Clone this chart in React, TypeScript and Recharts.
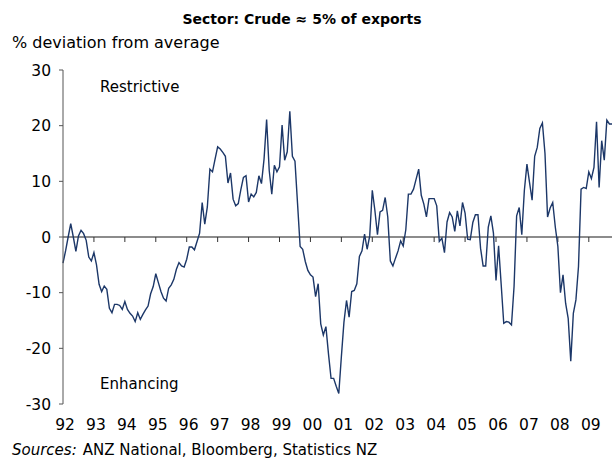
import { LineChart, Line, XAxis, YAxis, ReferenceLine } from 'recharts'

// year labels on the x axis (one per calendar year, Jan 1992 .. Oct 2009)
const yearLabels = ['92', '93', '94', '95', '96', '97', '98', '99', '00', '01', '02', '03', '04', '05', '06', '07', '08', '09']
const yTicks = [-30, -20, -10, 0, 10, 20, 30]

// monthly % deviation from average
const dev1992 = [-4.7, -2.5, 0.0, 2.4, 0.0, -2.6, 0.2, 1.2, 0.6, -0.6, -3.6, -4.3]
const dev1993 = [-2.8, -5.0, -8.5, -9.8, -8.8, -9.4, -12.8, -13.6, -12.1, -12.1, -12.3, -13.0]
const dev1994 = [-11.6, -13.0, -13.7, -14.2, -15.2, -13.6, -14.8, -13.9, -13.1, -12.4, -10.2, -8.9]
const dev1995 = [-6.6, -8.2, -9.8, -11.0, -11.5, -9.2, -8.6, -7.6, -5.8, -4.6, -5.2, -5.4]
const dev1996 = [-4.0, -1.8, -1.8, -2.3, -0.8, 0.7, 6.2, 2.3, 5.4, 12.2, 11.7, 14.0]
const dev1997 = [16.2, 15.8, 15.2, 14.5, 9.7, 11.5, 6.8, 5.6, 6.0, 8.5, 10.7, 11.0]
const dev1998 = [6.3, 7.7, 7.2, 8.0, 11.0, 9.6, 14.0, 21.1, 12.0, 7.7, 12.9, 11.7]
const dev1999 = [12.6, 20.1, 13.8, 15.3, 22.6, 14.5, 13.6, 6.0, -1.7, -2.2, -4.4, -6.0]
const dev2000 = [-6.8, -7.2, -10.7, -8.4, -15.6, -17.6, -16.1, -21.0, -25.4, -25.4, -26.8, -28.1]
const dev2001 = [-21.5, -15.3, -11.4, -14.4, -9.8, -9.6, -8.4, -3.5, -2.5, 0.5, -2.2, 0.2]
const dev2002 = [8.4, 4.8, 0.4, 4.5, 4.8, 7.1, 3.6, -4.3, -5.2, -3.8, -2.5, -0.7]
const dev2003 = [-1.6, 1.3, 7.7, 7.7, 8.6, 10.4, 12.2, 7.5, 5.9, 3.6, 6.9, 6.9]
const dev2004 = [6.9, 5.6, -0.8, -0.2, -2.8, 2.7, 4.4, 3.6, 1.0, 4.7, 2.0, 6.2]
const dev2005 = [4.3, -0.4, -0.5, 2.6, 4.0, 4.0, -2.0, -5.2, -5.2, 1.8, 3.8, 0.7]
const dev2006 = [-7.8, -1.6, -8.5, -15.5, -15.2, -15.3, -15.8, -8.9, 3.8, 5.3, 0.4, 8.4]
const dev2007 = [13.1, 9.8, 6.6, 14.5, 16.1, 19.5, 20.5, 15.0, 3.6, 5.2, 6.2, 1.8]
const dev2008 = [-1.7, -10.0, -6.8, -11.9, -14.6, -22.3, -13.7, -11.3, -5.3, 8.6, 8.9, 8.7]
const dev2009 = [11.7, 10.5, 12.5, 20.7, 8.9, 17.3, 13.8, 21.0, 20.3, 20.3]

const series = [
  ...dev1992, ...dev1993, ...dev1994, ...dev1995, ...dev1996, ...dev1997,
  ...dev1998, ...dev1999, ...dev2000, ...dev2001, ...dev2002, ...dev2003,
  ...dev2004, ...dev2005, ...dev2006, ...dev2007, ...dev2008, ...dev2009,
]
const data = series.map((v, m) => ({ m, v }))
const yearStarts = yearLabels.map((_, k) => k * 12)
const lastMonth = series.length - 1

const font = '"DejaVu Sans", Verdana, sans-serif'

export default function App() {
  return (
    <div style={{ position: 'absolute', left: 0, top: 0, width: 615, height: 459, background: '#fff', fontFamily: font }}>
      <LineChart width={615} height={459} data={data} margin={{ top: 70, right: 3, bottom: 25, left: 13 }}>
        <XAxis
          dataKey="m"
          type="number"
          domain={[0, lastMonth]}
          ticks={yearStarts}
          interval={0}
          tickFormatter={(m: number) => yearLabels[Math.round(m / 12)]}
          axisLine={false}
          tickLine={false}
          tick={{ fill: '#000', fontSize: 15.5, fontFamily: font, dx: 2 }}
          height={30}
          tickMargin={9}
        />
        <YAxis
          domain={[-30, 30]}
          ticks={yTicks}
          interval={0}
          width={50}
          tickSize={4}
          tickMargin={8}
          axisLine={{ stroke: '#555' }}
          tickLine={{ stroke: '#555' }}
          tick={{ fill: '#000', fontSize: 15.5, fontFamily: font }}
        />
        <ReferenceLine y={0} stroke="#666" strokeWidth={1.5} />
        {yearStarts.slice(1).map((m) => (
          <ReferenceLine key={m} segment={[{ x: m, y: 0 }, { x: m, y: -0.9 }]} stroke="#333" />
        ))}
        <Line type="linear" dataKey="v" stroke="#1c3768" strokeWidth={1.4} dot={false} isAnimationActive={false} />
      </LineChart>
      <svg width={615} height={459} style={{ position: 'absolute', left: 0, top: 0, pointerEvents: 'none' }} fontFamily={font}>
        <text x={302} y={24} textAnchor="middle" fontSize={14} fontWeight="bold">Sector: Crude ≈ 5% of exports</text>
        <text x={12} y={48} fontSize={16}>% deviation from average</text>
        <text x={100} y={92} fontSize={15}>Restrictive</text>
        <text x={100} y={389} fontSize={15}>Enhancing</text>
        <text x={12} y={455} fontSize={15}>
          <tspan fontStyle="italic">Sources:</tspan>
          <tspan dx={6}>ANZ National, Bloomberg, Statistics NZ</tspan>
        </text>
      </svg>
    </div>
  )
}
